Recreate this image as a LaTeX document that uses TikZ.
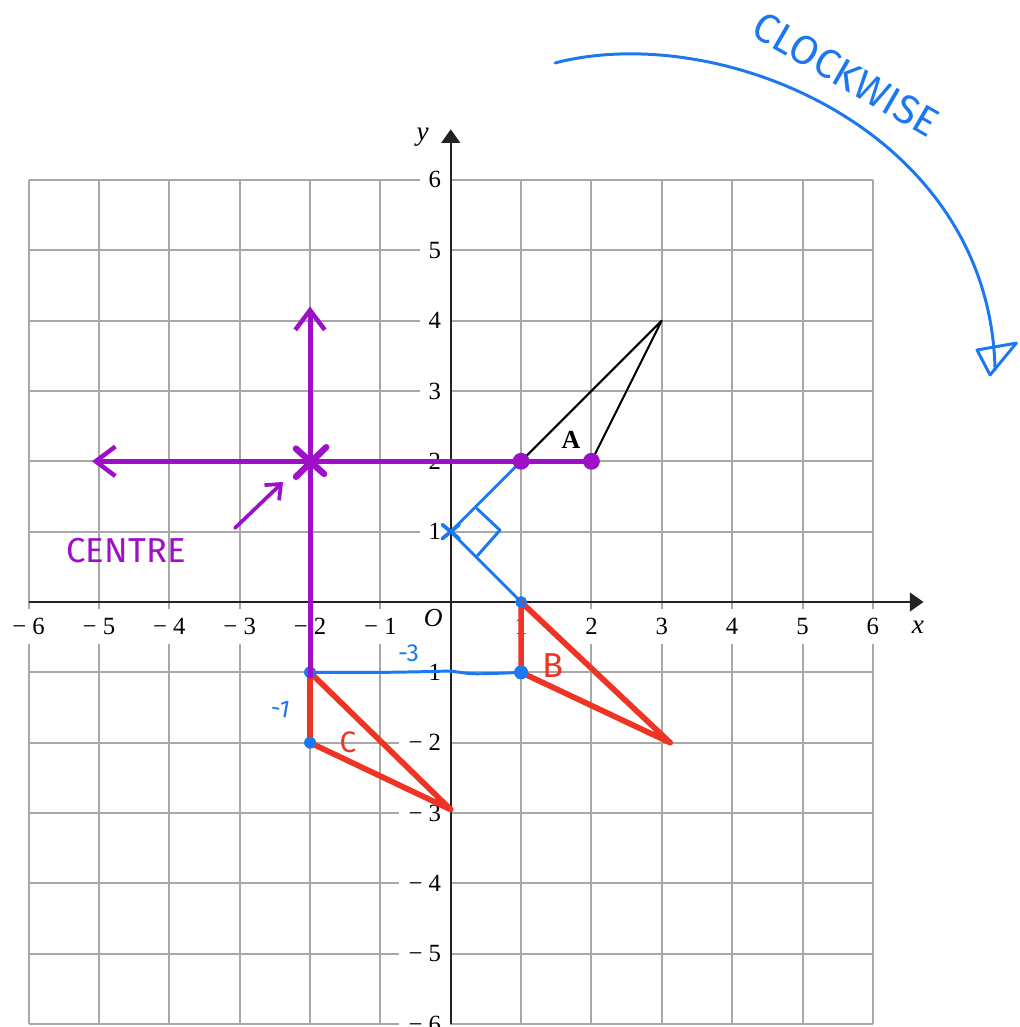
\documentclass[tikz,border=0pt]{standalone}
\usepackage{fontspec}
\setmainfont{Liberation Serif}
\newfontfamily\hand{Fira Sans}
\usetikzlibrary{arrows.meta}
\definecolor{gridgray}{RGB}{168,168,168}
\definecolor{pur}{RGB}{158,16,200}
\definecolor{blu}{RGB}{28,120,240}
\definecolor{redd}{RGB}{238,52,36}
\definecolor{axisc}{RGB}{35,35,35}
\tikzset{
  gridline/.style={gridgray, line width=0.8pt},
  axisline/.style={axisc, line width=1pt, -{Triangle[length=5.5pt,width=7.5pt]}},
  numfont/.style={font=\fontsize{10}{12}\selectfont},
  xlab/.style={numfont, fill=white, inner xsep=1pt, inner ysep=0pt, minimum height=14pt},
  ylab/.style={numfont, fill=white, anchor=east, inner xsep=0.13cm, inner ysep=1.5pt},
  triA/.style={black, line width=0.8pt, line join=round},
  purp/.style={pur, line width=2pt, line cap=round, line join=round},
  redl/.style={redd, line width=2.3pt, line cap=round, line join=round},
  blul/.style={blu, line width=1.2pt, line cap=round, line join=round},
  barb/.style={-{Straight Barb[length=2.8mm,width=4.2mm,line width=1.8pt]}},
  smallbarb/.style={-{Straight Barb[length=1.8mm,width=3mm,line width=1.5pt]}},
  handp/.style={pur, font=\hand\fontsize{14}{16}\selectfont},
  handr/.style={redd, font=\hand\fontsize{14}{16}\selectfont},
  handb/.style={blu, font=\hand\fontsize{10}{12}\selectfont},
}
\begin{document}
\begin{tikzpicture}
\useasboundingbox (-6.407,-6.041) rectangle (8.078,8.557);

% grid
\draw[gridline] (-6,-6) grid (6,6);

% axis numbers
\foreach \v/\t/\n in {-6/{− 6}/m6,-5/{− 5}/m5,-4/{− 4}/m4,-3/{− 3}/m3,-2/{− 2}/m2,-1/{− 1}/m1,1/1/p1,2/2/p2,3/3/p3,4/4/p4,5/5/p5,6/6/p6}{
  \node[xlab] (xl\n) at (\v,-0.35) {\t};
  \node[ylab] (yl\n) at (0,\v) {\t};
}
\node[numfont, font=\itshape\fontsize{10.5}{12}\selectfont] (O) at (-0.25,-0.23) {O};

% axes
\coordinate (xs) at (-6,0);
\coordinate (xe) at (6.72,0);
\coordinate (ys) at (0,-6);
\coordinate (ye) at (0,6.72);
\draw[axisline] (xs) -- (xe);
\draw[axisline] (ys) -- (ye);
\node[font=\itshape\fontsize{11}{12}\selectfont] (xlabel) at (6.64,-0.36) {x};
\node[font=\itshape\fontsize{11}{12}\selectfont] (ylabel) at (-0.40,6.6) {y};

% triangle A
\coordinate (A1) at (1,2);
\coordinate (A2) at (3,4);
\coordinate (A3) at (2,2);
\draw[triA] (A1) -- (A2) -- (A3) -- cycle;
\node[font=\bfseries\fontsize{10.5}{12}\selectfont] (labA) at (1.71,2.30) {A};

% red triangles B and C
\coordinate (B1) at (1,0);
\coordinate (B2) at (3.12,-2.0);
\coordinate (B3) at (1,-1);
\coordinate (C1) at (-2,-1);
\coordinate (C2) at (0.0,-2.95);
\coordinate (C3) at (-2,-2);
\draw[redl] (B1) -- (B2) -- (B3) -- cycle;
\draw[redl] (C1) -- (C2) -- (C3) -- cycle;
\node[handr] (labB) at (1.46,-0.9) {B};
\node[handr, font=\hand\fontsize{12}{14}\selectfont] (labC) at (-1.46,-1.99) {C};

% blue construction
\coordinate (P) at (0,1);
\draw[blul] (A1) -- (P) -- (B1);
\draw[blul] (0.37,1.33) -- (0.7,1.02) -- (0.38,0.66);
\draw[blul, line width=1.5pt] (-0.12,0.9) -- (0.12,1.1);
\draw[blul, line width=1.5pt] (-0.12,1.1) -- (0.12,0.9);
\draw[blul] plot[smooth, tension=0.6] coordinates {(-2,-1) (-1,-1.0) (-0.35,-0.99) (0,-0.985) (0.35,-1.02) (1,-1)};
\fill[blu] (B3) circle (0.1);
\fill[blu] (C1) circle (0.085);
\fill[blu] (C3) circle (0.085);
\draw[blu, line width=1.3pt] (B1) circle (0.06);
\node[handb] (lm3) at (-0.6,-0.73) {-3};
\node[handb, rotate=-10] (lm1) at (-2.42,-1.52) {-1};

% purple centre construction
\coordinate (Ctr) at (-2,2);
\coordinate (Lt) at (-5.1,2);
\coordinate (Up) at (-2,4.2);
\coordinate (Dn) at (-2,-1.05);
\draw[purp, barb] (A3) -- (Ctr) -- (Lt);
\draw[purp, barb] (Dn) -- (Up);
\draw[purp, line width=2.6pt] (-2.2,2.18) -- (-1.8,1.82);
\draw[purp, line width=2.6pt] (-1.77,2.2) -- (-2.2,1.78);
\coordinate (cs) at (-3.066,1.052);
\coordinate (ce) at (-2.384,1.706);
\draw[purp, line width=1.5pt, smallbarb] (cs) -- (ce);
\fill[pur] (A1) circle (0.12);
\fill[pur] (A3) circle (0.12);
\node[handp] (centre) at (-4.615,0.725) {CENTRE};

% clockwise arc
\coordinate (arcS) at (1.483,7.662);
\coordinate (arcE) at (7.737,3.30);
\draw[blul] (arcS) .. controls (3.828,8.273) and (7.666,6.709) .. (arcE);
\draw[blul] (7.481,3.582) -- (8.04,3.68) -- (7.666,3.227) -- cycle;
\node[blu, font=\hand\fontsize{16.5}{18}\selectfont, rotate=-30] (cw) at (5.62,7.5) {CLOCKWISE};
\end{tikzpicture}
\end{document}
